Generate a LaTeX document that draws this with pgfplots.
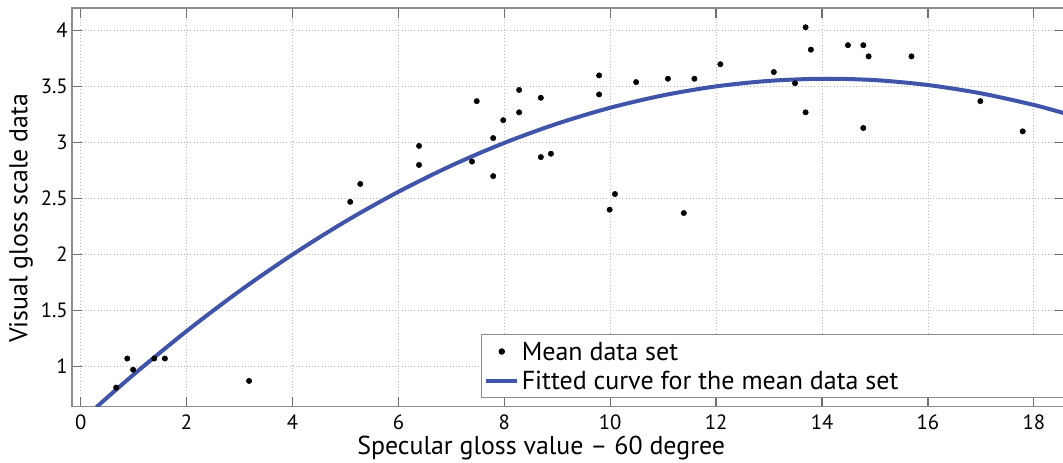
\documentclass[border=0pt]{standalone}
\usepackage{pgfplots}
\pgfplotsset{compat=1.18}
\usepackage{fontspec}
\setmainfont{PT Sans}
\definecolor{fitblue}{RGB}{64,84,170}
\definecolor{axgray}{RGB}{140,140,140}
\definecolor{tickgray}{RGB}{110,110,110}
\newcommand{\lstrut}{\rule[-5pt]{0pt}{20pt}}
\begin{document}
\begin{tikzpicture}[x=1pt,y=1pt]
\begin{axis}[
  scale only axis,
  width=744pt, height=298.8pt,
  xmin=-0.164, xmax=18.57,
  ymin=0.64, ymax=4.2,
  xtick={0,2,...,18},
  ytick={1,1.5,2,2.5,3,3.5,4},
  yticklabels={1,1.5,2,2.5,3,3.5,4},
  /pgf/number format/assume math mode=true,
  tick label style={font=\fontsize{15.5pt}{18pt}\selectfont},
  xticklabel style={inner sep=0pt, yshift=-6pt},
  yticklabel style={inner sep=3pt},
  tick align=inside,
  major tick length=7.5pt,
  every tick/.style={tickgray, line width=1pt},
  axis line style={axgray, line width=1.2pt},
  grid=major,
  major grid style={dotted, gray!55, line width=0.6pt},
  xlabel={Specular gloss value -- 60 degree},
  ylabel={Visual gloss scale data},
  label style={font=\fontsize{19.4pt}{23pt}\selectfont, inner sep=0pt},
  xlabel style={at={(axis description cs:0.473,0)}, anchor=base, yshift=-36pt},
  ylabel style={at={(axis description cs:-0.0514,0.473)}, anchor=center},
  legend style={at={(axis description cs:0.4123,0.0218)}, anchor=south west,
    draw=axgray, line width=0.8pt, fill=white,
    font=\fontsize{19.5pt}{23pt}\selectfont,
    row sep=1.5pt, inner sep=2.2pt,
    cells={anchor=west}},
  legend image code/.code={\draw[mark repeat=2,mark phase=2,#1] plot coordinates {(0pt,0pt) (11.5pt,0pt) (23pt,0pt)};},
  clip=true,
]
\addplot[only marks, mark=*, mark size=2pt, black] coordinates {
(0.67,0.81) (0.88,1.07) (0.99,0.97) (1.39,1.07) (1.59,1.07) (3.18,0.87)
(5.09,2.47) (5.28,2.63) (6.39,2.97) (6.39,2.80) (7.39,2.83) (7.48,3.37)
(7.79,3.04) (7.79,2.70) (7.98,3.20) (8.28,3.47) (8.28,3.27) (8.69,3.40)
(8.69,2.87) (8.88,2.90) (9.79,3.60) (9.79,3.43) (9.99,2.40) (10.09,2.54)
(10.49,3.54) (11.09,3.57) (11.39,2.37) (11.59,3.57) (12.08,3.70) (13.09,3.63)
(13.49,3.53) (13.69,4.03) (13.79,3.83) (13.69,3.27) (14.49,3.87) (14.78,3.87)
(14.88,3.77) (14.78,3.13) (15.69,3.77) (16.99,3.37) (17.79,3.10)
};
\addlegendentry{\lstrut Mean data set}
\addplot[fitblue, line width=3pt, smooth] coordinates {
(0.3,0.637) (1,0.927) (2,1.315) (3,1.673) (4,1.999) (5,2.295) (6,2.560)
(7,2.794) (8,2.997) (9,3.169) (10,3.311) (11,3.422) (12,3.502) (13,3.551)
(14,3.570) (15,3.558) (16,3.514) (17,3.440) (18,3.336) (18.6,3.258)
};
\addlegendentry{\makebox[410pt][l]{\lstrut Fitted curve for the mean data set}}
\end{axis}
\pgfresetboundingbox
\path[use as bounding box] (-54pt,-42.2pt) rectangle (743.25pt,305pt);
\end{tikzpicture}
\end{document}
